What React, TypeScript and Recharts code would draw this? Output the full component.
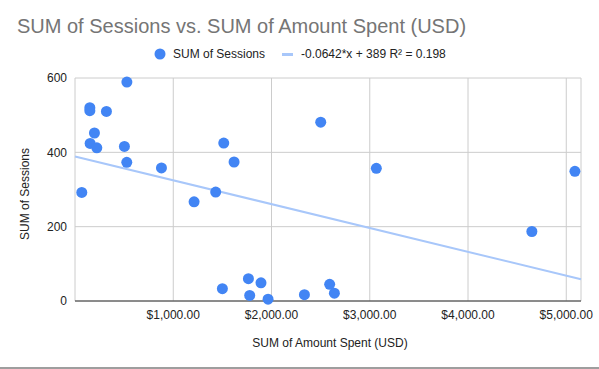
import React from "react";
import { ScatterChart, Scatter, XAxis, YAxis, CartesianGrid, Label } from "recharts";

const amountSpent = [528, 151, 151, 320, 198, 154, 222, 503, 527, 880, 69, 1212, 1432, 1514, 1619, 2501, 3067, 1500, 1765, 1893, 1778, 1965, 2335, 2592, 2640, 4650, 5088];
const sessions = [589, 520, 512, 510, 452, 424, 412, 416, 373, 358, 292, 267, 293, 425, 374, 481, 357, 33, 60, 49, 15, 5, 17, 45, 21, 187, 349];

const slope = -0.0642;
const intercept = 389;
const xDomain = [0, 5150];
const xTicks = [1000, 2000, 3000, 4000, 5000];
const yTicks = [0, 200, 400, 600];

const points = amountSpent.map((x, i) => ({ x, y: sessions[i] }));
const trend = xDomain.map((x) => ({ x, y: slope * x + intercept }));

const FONT = "'Liberation Sans', Arial, sans-serif";

const fmtUsd = (v: number) =>
  "$" + v.toLocaleString("en-US", { minimumFractionDigits: 2, maximumFractionDigits: 2 });

export default function App() {
  return (
    <div style={{ position: "absolute", left: 0, top: 0, width: 599, height: 369, background: "#fff", fontFamily: FONT }}>
      <svg width={599} height={369} style={{ position: "absolute", left: 0, top: 0 }}>
        <text x={17} y={33} fontSize={20} fill="#757575" fontFamily={FONT}>
          SUM of Sessions vs. SUM of Amount Spent (USD)
        </text>
        <circle cx={160} cy={54} r={5.5} fill="#4285f4" />
        <text x={173} y={58} fontSize={12} fill="#222" fontFamily={FONT}>SUM of Sessions</text>
        <rect x={282} y={53} width={11} height={3} fill="#a8c7fa" />
        <text x={301} y={58} fontSize={12} fill="#222" fontFamily={FONT}>-0.0642*x + 389 R² = 0.198</text>
        <rect x={0} y={367} width={599} height={2} fill="#9e9e9e" />
      </svg>
      <div style={{ position: "absolute", left: 0, top: 0 }}>
        <ScatterChart width={599} height={369} margin={{ top: 78, right: 18, bottom: 38, left: 15 }}>
          <CartesianGrid stroke="#cccccc" strokeWidth={1} />
          <XAxis
            type="number"
            dataKey="x"
            domain={xDomain}
            ticks={xTicks}
            tickFormatter={fmtUsd}
            height={30}
            tickLine={false}
            tickSize={0}
            tickMargin={9}
            axisLine={{ stroke: "#333", strokeWidth: 1.2 }}
            tick={{ fontSize: 12, fill: "#222", fontFamily: FONT }}
            interval={0}
          >
            <Label
              content={() => (
                <text x={330} y={347} textAnchor="middle" fontSize={12} fill="#222" fontFamily={FONT}>
                  SUM of Amount Spent (USD)
                </text>
              )}
            />
          </XAxis>
          <YAxis
            type="number"
            dataKey="y"
            domain={[0, 600]}
            ticks={yTicks}
            width={60}
            tickLine={false}
            tickSize={0}
            tickMargin={8}
            axisLine={false}
            tick={{ fontSize: 12, fill: "#222", fontFamily: FONT }}
            interval={0}
          >
            <Label
              content={() => (
                <text
                  x={29}
                  y={194}
                  textAnchor="middle"
                  fontSize={12}
                  fill="#222"
                  fontFamily={FONT}
                  transform="rotate(-90 29 194)"
                >
                  SUM of Sessions
                </text>
              )}
            />
          </YAxis>
          <Scatter
            data={trend}
            line={{ stroke: "#a8c7fa", strokeWidth: 2 }}
            shape={() => <g />}
            isAnimationActive={false}
            legendType="none"
          />
          <Scatter
            data={points}
            fill="#4285f4"
            shape={(p: any) => <circle cx={p.cx} cy={p.cy} r={5.5} fill="#4285f4" />}
            isAnimationActive={false}
          />
        </ScatterChart>
      </div>
    </div>
  );
}
